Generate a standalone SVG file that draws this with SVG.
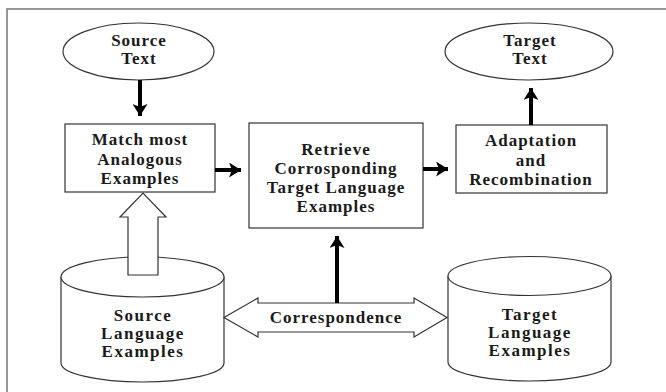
<svg xmlns="http://www.w3.org/2000/svg" width="666" height="392" viewBox="0 0 666 392">
<style>
.shape{fill:#fff;stroke:#333;stroke-width:1.2}
.t{font-family:"Liberation Serif","Times New Roman",serif;font-size:17px;font-weight:bold;fill:#1a1a1a;text-anchor:middle;letter-spacing:1px}
.w{letter-spacing:1.5px}
.conn{stroke:#000;stroke-width:4;fill:none}
</style>
<defs>
<marker id="ah" markerUnits="userSpaceOnUse" viewBox="0 0 12 15" refX="12" refY="7.5" markerWidth="12" markerHeight="15" orient="auto">
<path d="M12,7.5 L0,0 L3,7.5 L0,15 Z" fill="#000"/>
</marker>
</defs>
<rect x="7" y="9" width="700" height="420" fill="#fff" stroke="#777" stroke-width="1.5"/>

<g id="source-text">
<ellipse class="shape" cx="138.5" cy="51.5" rx="75.5" ry="28.5"/>
<text class="t" x="139" y="46">Source</text>
<text class="t" x="139" y="64">Text</text>
</g>

<g id="target-text">
<ellipse class="shape" cx="529" cy="51.5" rx="84" ry="28.5"/>
<text class="t" x="530" y="46">Target</text>
<text class="t" x="530" y="64">Text</text>
</g>

<g id="match">
<rect class="shape" x="65" y="124" width="150" height="68"/>
<text class="t" x="140" y="145">Match most</text>
<text class="t" x="140" y="164.5">Analogous</text>
<text class="t" x="140" y="184">Examples</text>
</g>

<g id="retrieve">
<rect class="shape" x="249" y="123" width="174" height="105"/>
<text class="t" x="336" y="155">Retrieve</text>
<text class="t" x="336" y="174">Corrosponding</text>
<text class="t" x="336" y="193">Target Language</text>
<text class="t" x="336" y="212">Examples</text>
</g>

<g id="adaptation">
<rect class="shape" x="456" y="125" width="151" height="68"/>
<text class="t" x="531" y="146">Adaptation</text>
<text class="t" x="531" y="165.5">and</text>
<text class="t" x="531" y="185">Recombination</text>
</g>

<g id="source-db">
<path class="shape" d="M61,277 L61,363 A81.5,19 0 0 0 224,363 L224,277"/>
<ellipse class="shape" cx="142.5" cy="277" rx="81.5" ry="20"/>
<text class="t w" x="143" y="321">Source</text>
<text class="t w" x="143" y="339">Language</text>
<text class="t w" x="143" y="357">Examples</text>
</g>

<g id="target-db">
<path class="shape" d="M448,276 L448,362 A81.5,19 0 0 0 611,362 L611,276"/>
<ellipse class="shape" cx="529.5" cy="276" rx="81.5" ry="19.5"/>
<text class="t w" x="530" y="320">Target</text>
<text class="t w" x="530" y="338">Language</text>
<text class="t w" x="530" y="356">Examples</text>
</g>

<g id="connectors">
<polygon class="shape" points="128,275 128,217 120,217 143,193 166,217 158,217 158,275"/>
<polygon class="shape" points="224,317.5 258,298 258,303 414,303 414,298 447,317.5 414,337 414,332 258,332 258,337"/>
<text class="t" x="336" y="323">Correspondence</text>
<line class="conn" x1="140" y1="80" x2="140" y2="116" marker-end="url(#ah)"/>
<line class="conn" x1="215" y1="170" x2="241" y2="170" marker-end="url(#ah)"/>
<line class="conn" x1="423" y1="169" x2="448" y2="169" marker-end="url(#ah)"/>
<line class="conn" x1="531" y1="125" x2="531" y2="88" marker-end="url(#ah)"/>
<line class="conn" x1="337" y1="303" x2="337" y2="236" marker-end="url(#ah)"/>
</g>
</svg>
